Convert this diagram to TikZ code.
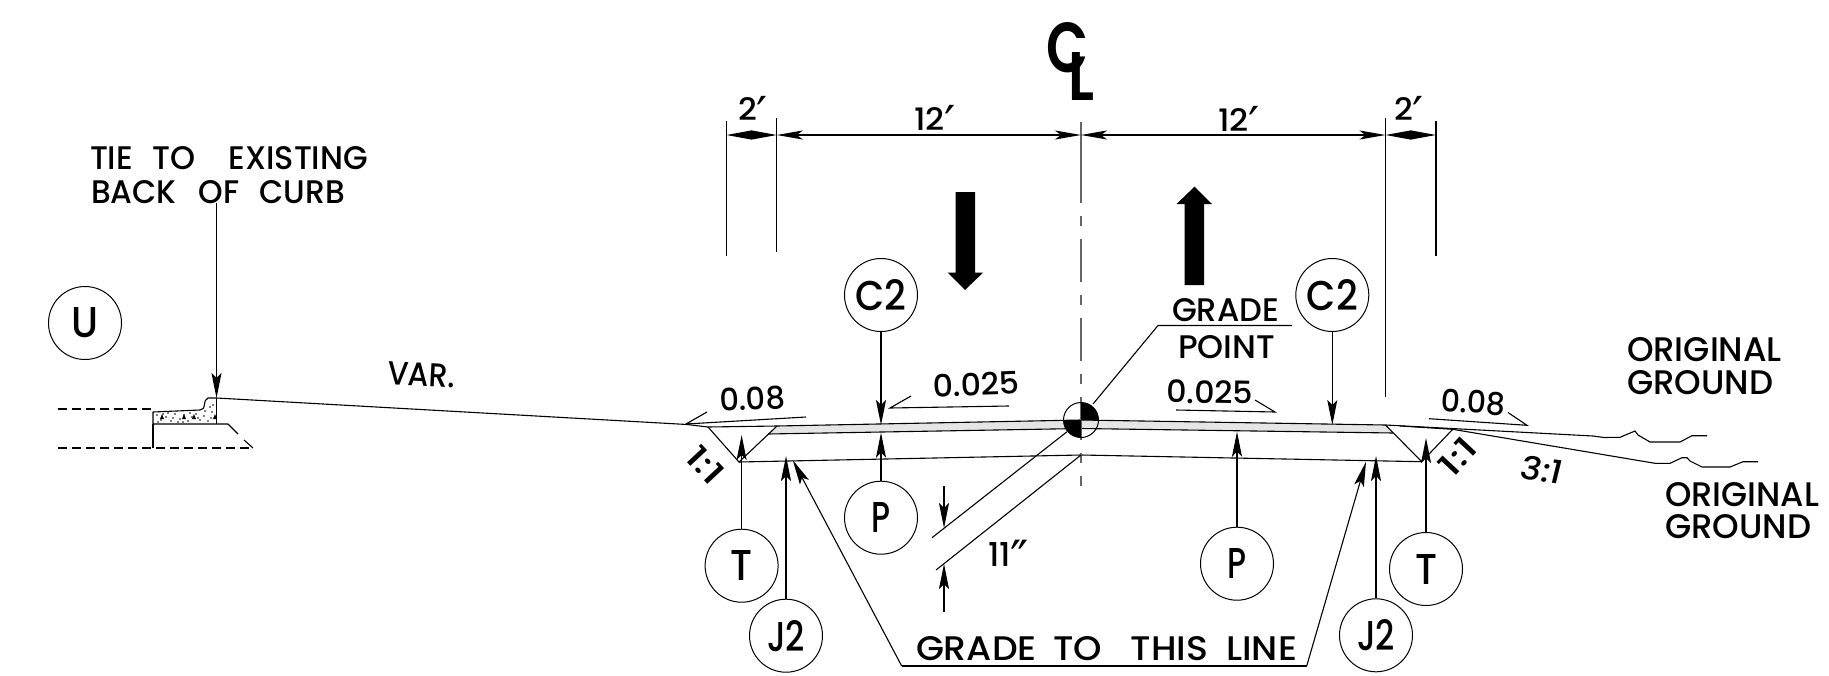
\documentclass[tikz,border=0pt]{standalone}
\usepackage{fontspec}
\usepackage{graphicx}
\usetikzlibrary{arrows.meta}
\setmainfont{Poppins Medium}
\newfontfamily\numf{Poppins Medium}
\newfontfamily\clf{Poppins SemiBold}
\newfontfamily\symf{DejaVu Sans}
\newcommand{\fit}[3]{\resizebox{#1pt}{#2pt}{\fontsize{33}{33}\selectfont #3}}
\newcommand{\gap}[1]{\hspace{#1em}}
\newcommand{\pr}{\raisebox{-10pt}[0pt][0pt]{\symf\fontsize{50}{50}\selectfont ′}}
\newcommand{\dpr}{\raisebox{-10pt}[0pt][0pt]{\symf\fontsize{50}{50}\selectfont ″}}
\tikzset{
  thin line/.style={line width=1.1pt,draw=black},
  lead/.style={thin line,-{Stealth[length=25pt,width=10pt,inset=5pt]}},
  dimline/.style={thin line,{Stealth[length=26pt,width=9pt,inset=6pt]}-{Stealth[length=26pt,width=9pt,inset=6pt]}},
  dimshort/.style={thin line,{Stealth[length=25.5pt,width=9pt,inset=0pt]}-{Stealth[length=25.5pt,width=9pt,inset=0pt]}},
  circ/.style={circle,draw=black,line width=1pt,minimum size=73pt,inner sep=0pt,fill=white},
  lbl/.style={anchor=base west,inner sep=0pt,outer sep=0pt},
  dash line/.style={thin line,dash pattern=on 9pt off 5pt},
}
\begin{document}
\begin{tikzpicture}[x=1pt,y=-1pt]
\useasboundingbox (0,0) rectangle (1829,675);
% coordinates
\coordinate (curbtop) at (216.5,398);
\coordinate (edgeL) at (687,424.5);
\coordinate (shL) at (708,427);
\coordinate (ditchL) at (739,462);
\coordinate (pavL) at (777,426);
\coordinate (pavLb) at (768,434);
\coordinate (cl) at (1081,420);
\coordinate (clb) at (1081,428.5);
\coordinate (sub) at (1081,455);
\coordinate (pavR) at (1385.5,425);
\coordinate (pavRb) at (1393,433);
\coordinate (ditchR) at (1421.7,461.7);
\coordinate (shR) at (1452.7,429.3);
% circles
\node[circ] (U) at (85,323) {\fit{27}{30}{U}};
\node[circ] (C2a) at (881,295) {\fit{51}{31}{C2}};
\node[circ] (C2b) at (1332.3,295) {\fit{51}{31}{C2}};
\node[circ] (Pa) at (881,517.7) {\fit{19}{30}{P}};
\node[circ] (Pb) at (1237,563.7) {\fit{19}{30}{P}};
\node[circ] (Ta) at (741.6,565.7) {\fit{22}{30}{T}};
\node[circ] (Tb) at (1426,569) {\fit{22}{30}{T}};
\node[circ] (Ja) at (786,635.7) {\fit{38}{31}{J2}};
\node[circ] (Jb) at (1376,635.3) {\fit{38}{31}{J2}};
% road
\fill[black!10] (pavLb) -- (pavL) -- (cl) -- (pavR) -- (pavRb) -- (clb) -- cycle;
\draw[thin line] (curbtop) -- (edgeL) -- (shL) -- (pavL) -- (cl) -- (pavR) -- (1593,436) -- (1604,437.5) -- (1620,437.3) -- (1635,431) -- (1638,435) -- (1650,442) -- (1680,442) -- (1692,435.7) -- (1707,435.7);
\draw[thin line] (pavLb) -- (clb) -- (pavRb);
\draw[thin line] (shL) -- (ditchL) -- (pavL);
\draw[thin line] (ditchL) -- (sub) -- (ditchR);
\draw[thin line] (pavR) -- (ditchR) -- (shR);
\draw[thin line] (1400,426) -- (shR) -- (1655,463.3) -- (1670,463.3) -- (1682,457.7) -- (1687,457.7) -- (1690,461) -- (1702,467) -- (1730,467) -- (1743,461.7) -- (1758,461.7);
% curb
\draw[thin line,line join=round] (curbtop) -- (208,398) .. controls (205,399) and (205,402) .. (204.5,404) .. controls (204,408) and (203,410) .. (200,410) -- (153,412) -- (153,424) -- (228,424);
\draw[thin line] (216.5,398) -- (216.5,424);
\foreach \x/\y in {157/415,161/420,166/417,171/421,175/414,180/419,184/415,188/421,192/417,196/414,200/420,204/416,208/421,212/412,213/405,211/418,168/413,178/422,190/413,158/422,183/422,205/411,210/407,163/414,173/418,198/418}
  \fill (\x,\y) circle (0.9pt);
\foreach \x in {160,182,192,213}
  \fill (\x,419) -- (\x+4,419) -- (\x+2,414) -- cycle;
\draw[dash line] (58,409) -- (153,409);
\draw[dash line] (58,448) -- (253,448);
\draw[thin line] (153,424) -- (153,448);
\draw[thin line] (228,424) -- (238,434);
\draw[thin line] (244,440) -- (253,448);
% centre line
\draw[line width=1.2pt,black!60,dash pattern=on 81pt off 13pt on 10pt off 13pt on 43pt off 13pt on 10pt off 13pt on 43pt off 13pt on 10pt off 13pt on 43pt off 13pt on 10pt off 13pt] (1081,122) -- (1081,486);
% symbol
\node[circle,draw=black,line width=1pt,minimum size=35pt,inner sep=0pt] (sym) at (cl) {};
\fill (cl) -- (1081,402.5) arc[start angle=90,end angle=0,radius=17.5pt] -- cycle;
\fill (cl) -- (1081,437.5) arc[start angle=270,end angle=180,radius=17.5pt] -- cycle;
% grade point leader
\coordinate (gpa) at (1292,325.5);
\coordinate (gpb) at (1158,325.5);
\draw[thin line] (gpa) -- (gpb) -- (1093,404);
% parallel dim
\coordinate (pa) at (932,537.7);
\coordinate (pb) at (936,570);
\draw[thin line] (1067,431.7) -- (pa);
\draw[thin line] (sub) -- (pb);
\coordinate (dta) at (944,486);
\coordinate (dtb) at (944,528);
\coordinate (dba) at (944,612);
\coordinate (dbb) at (944,564);
\draw[lead] (dta) -- (dtb);
\draw[lead] (dba) -- (dbb);
% extension lines
\draw[thin line] (726.4,121) -- (726.4,256);
\draw[thin line] (776.8,118) -- (776.8,252);
\draw[thin line] (1385.5,118) -- (1385.5,397);
\draw[thin line] (1436,121) -- (1436,256);
% dims
\coordinate (e1) at (726.4,135);
\coordinate (e2) at (776.8,135);
\coordinate (e3) at (1081,135);
\coordinate (e4) at (1385.5,135);
\coordinate (e5) at (1436,135);
\draw[dimshort] (e1) -- (e2);
\draw[dimline] (e2) -- (e3);
\draw[dimline] (e3) -- (e4);
\draw[dimshort] (e4) -- (e5);
% leaders
\coordinate (tie) at (216.5,203);
\draw[lead] (tie) -- (curbtop);
\draw[lead] (C2a.south) -- (881,425);
\draw[lead] (C2b.south) -- (1332.3,425);
\draw[lead] (Pa.north) -- (881,432.7);
\draw[lead] (Pb.north) -- (1237,431.7);
\draw[lead] (Ta.north) -- (741.6,435);
\draw[lead] (Tb.north) -- (1426,438);
\draw[lead] (Ja.north) -- (786,456);
\draw[lead] (Jb.north) -- (1376,456);
\coordinate (g1) at (901.7,666);
\coordinate (g2) at (1306.7,666);
\draw[lead] (g1) -- (792.7,460);
\draw[lead] (g2) -- (1366,461.7);
\draw[thin line] (g1) -- (g2);
% slope marks
\draw[thin line] (707,412) -- (686,424) -- (806,417);
\draw[thin line] (911,396) -- (890,408) -- (1009,406);
\draw[thin line] (1176,410) -- (1275,412) -- (1255,400);
\draw[thin line] (1429,418.7) -- (1527,425.3) -- (1508,412.5);
% block arrows
\fill (955.5,192) -- (975,192) -- (975,272.7) -- (983,272.7) -- (965,290) -- (947.7,272.7) -- (955.5,272.7) -- cycle;
\fill (1184.7,285) -- (1204,285) -- (1204,204) -- (1212,204) -- (1194.5,186.7) -- (1176.5,204) -- (1184.7,204) -- cycle;
% texts
\node[lbl] (tA) at (90,169) {\fit{278}{23}{TIE\gap{.6}TO\gap{1.05}EXISTING}};
\node[lbl] (tB) at (91,203) {\fit{254}{23}{BACK\gap{.7}OF\gap{.65}CURB}};
\node[lbl,rotate=-3] (var) at (387,384) {\fit{68}{23}{VAR.}};
\node[lbl] (d2a) at (738,120.7) {\fit{30}{23}{2\pr}};
\node[lbl] (d2b) at (1394,120.7) {\fit{30}{23}{2\pr}};
\node[lbl] (d12a) at (914,130) {\fit{42}{23}{12\pr}};
\node[lbl] (d12b) at (1218,131) {\fit{42}{23}{12\pr}};
\node[lbl] (gr) at (1172,321) {\fit{107}{23}{GRADE}};
\node[lbl] (pt) at (1178,358) {\fit{97}{23}{POINT}};
\node[lbl] (el) at (988,566.7) {\fit{41}{24}{11\dpr}};
\node[lbl] (gt) at (916,660) {\fit{381}{24}{GRADE\gap{.45}TO\gap{.8}THIS\gap{.5}LINE}};
\node[lbl,rotate=3] (s1) at (720,411.7) {\fit{66}{23}{0.08}};
\node[lbl,rotate=2] (s2) at (933,397) {\fit{87}{23}{0.025}};
\node[lbl,rotate=-1] (s3) at (1166,402.7) {\fit{87}{23}{0.025}};
\node[lbl,rotate=-4] (s4) at (1440,411) {\fit{65}{23}{0.08}};
\node[rotate=-47,inner sep=0pt] (r1) at (705,465) {\fit{40}{23}{1:1}};
\node[rotate=47,inner sep=0pt] (r2) at (1458,456.7) {\fit{40}{23}{1:1}};
\node[rotate=-8,inner sep=0pt,xslant=0.1] (r3) at (1542,470) {\fit{42}{24}{3:1}};
\node[lbl] (oa) at (1627,361.7) {\fit{155}{24}{ORIGINAL}};
\node[lbl] (ob) at (1627,394) {\fit{146}{24}{GROUND}};
\node[lbl] (oc) at (1665,506) {\fit{154}{24}{ORIGINAL}};
\node[lbl] (od) at (1665,538) {\fit{146}{24}{GROUND}};
% CL
\node[inner sep=0pt,anchor=base] (clC) at (1067,72) {\resizebox{42pt}{50pt}{\fontsize{33}{33}\selectfont\clf C}};
\node[inner sep=0pt,anchor=base west] (clL) at (1068,100) {\resizebox{26pt}{48pt}{\fontsize{33}{33}\selectfont\clf L}};
\end{tikzpicture}
\end{document}
